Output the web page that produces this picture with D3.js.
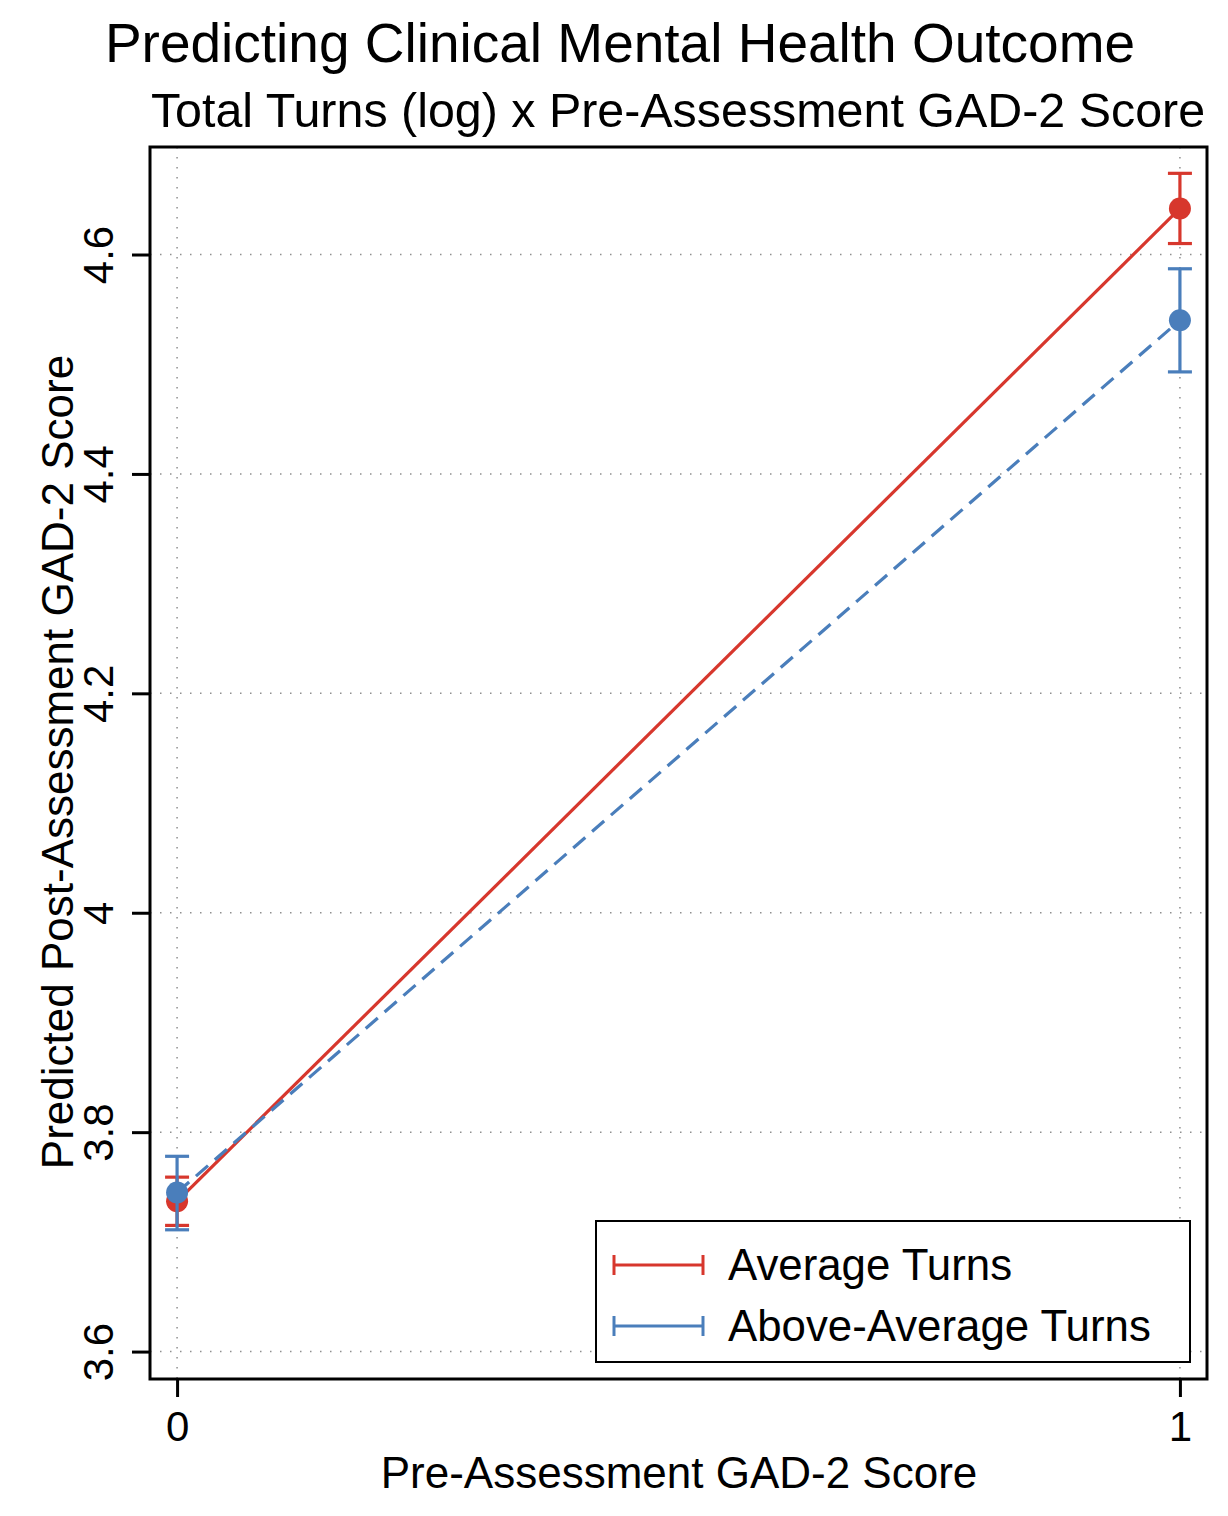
<!DOCTYPE html>
<html>
<head>
<meta charset="utf-8">
<script src="https://cdn.jsdelivr.net/npm/d3@7"></script>
<style>
  body { margin: 0; background: #fff; }
  svg text { font-family: "Liberation Sans", Arial, Helvetica, sans-serif; fill: #000; }
</style>
</head>
<body>
<div id="chart"></div>
<script>
// Pre-assessment GAD-2 score (x categories)
const xValues = [0, 1];
// Average turns: predicted margin and 95% CI
const avgPred = [3.737, 4.642];
const avgLo = [3.715, 4.610];
const avgHi = [3.759, 4.674];
// Above-average turns
const abovePred = [3.745, 4.540];
const aboveLo = [3.711, 4.493];
const aboveHi = [3.778, 4.587];

const yTicks = [3.6, 3.8, 4, 4.2, 4.4, 4.6];
const seriesNames = ['Average Turns', 'Above-Average Turns'];
const colors = ['#d7372d', '#4a7ebb'];

const W = 1228, H = 1516;
const box = { left: 150, top: 147, right: 1207, bottom: 1379 };

const svg = d3.select('#chart').append('svg')
  .attr('width', W).attr('height', H);

const x = d3.scaleLinear().domain([-0.027, 1.027]).range([box.left, box.right]);
const y = d3.scaleLinear().domain([3.575, 4.698]).range([box.bottom, box.top]);

// Titles
svg.append('text')
  .attr('x', 620).attr('y', 62)
  .attr('text-anchor', 'middle')
  .style('font-size', '55px')
  .text('Predicting Clinical Mental Health Outcome');

svg.append('text')
  .attr('x', 678).attr('y', 127)
  .attr('text-anchor', 'middle')
  .style('font-size', '48.4px')
  .text('Total Turns (log) x Pre-Assessment GAD-2 Score');

// grid
const grid = svg.append('g');
grid.selectAll('.hgrid').data(yTicks).enter().append('line')
  .attr('x1', box.left).attr('x2', box.right)
  .attr('y1', d => y(d)).attr('y2', d => y(d))
  .attr('stroke', '#8f8f8f').attr('stroke-width', 1.5)
  .attr('stroke-dasharray', '1.5,8.5');
grid.selectAll('.vgrid').data(xValues).enter().append('line')
  .attr('x1', d => x(d)).attr('x2', d => x(d))
  .attr('y1', box.top).attr('y2', box.bottom)
  .attr('stroke', '#8f8f8f').attr('stroke-width', 1.5)
  .attr('stroke-dasharray', '1.5,8.5');

// axes
const yAxis = svg.append('g')
  .attr('transform', `translate(${box.left},0)`)
  .call(d3.axisLeft(y).tickValues(yTicks).tickSize(18).tickFormat(d3.format('')));
yAxis.select('.domain').remove();
yAxis.selectAll('line').attr('stroke', '#000').attr('stroke-width', 3);
yAxis.selectAll('text')
  .attr('x', null).attr('dy', null)
  .attr('text-anchor', 'middle')
  .attr('transform', 'translate(-37,0) rotate(-90)')
  .style('font-size', '42px')
  .style('font-family', '"Liberation Sans", Arial, sans-serif')
  .attr('fill', '#000');

const xAxis = svg.append('g')
  .attr('transform', `translate(0,${box.bottom})`)
  .call(d3.axisBottom(x).tickValues(xValues).tickSize(18).tickFormat(d3.format('d')));
xAxis.select('.domain').remove();
xAxis.selectAll('line').attr('stroke', '#000').attr('stroke-width', 3);
xAxis.selectAll('text')
  .attr('dy', null).attr('y', 62)
  .style('font-size', '42px')
  .style('font-family', '"Liberation Sans", Arial, sans-serif')
  .attr('fill', '#000');

// plot frame
svg.append('rect')
  .attr('x', box.left).attr('y', box.top)
  .attr('width', box.right - box.left).attr('height', box.bottom - box.top)
  .attr('fill', 'none').attr('stroke', '#000').attr('stroke-width', 3);

// axis titles
svg.append('text')
  .attr('transform', `translate(73,762) rotate(-90)`)
  .attr('text-anchor', 'middle')
  .style('font-size', '44px')
  .text('Predicted Post-Assessment GAD-2 Score');

svg.append('text')
  .attr('x', 679).attr('y', 1488)
  .attr('text-anchor', 'middle')
  .style('font-size', '44px')
  .text('Pre-Assessment GAD-2 Score');

// series
const series = [
  { pred: avgPred, lo: avgLo, hi: avgHi, dash: null },
  { pred: abovePred, lo: aboveLo, hi: aboveHi, dash: '16,9' }
];
const line = d3.line().x((d, i) => x(xValues[i])).y(d => y(d));
const capW = 12;

series.forEach((s, k) => {
  const g = svg.append('g');
  g.append('path')
    .attr('d', line(s.pred))
    .attr('fill', 'none')
    .attr('stroke', colors[k]).attr('stroke-width', 3.2)
    .attr('stroke-dasharray', s.dash);
  xValues.forEach((xv, i) => {
    g.append('line')
      .attr('x1', x(xv)).attr('x2', x(xv))
      .attr('y1', y(s.lo[i])).attr('y2', y(s.hi[i]))
      .attr('stroke', colors[k]).attr('stroke-width', 3.2);
    [s.lo[i], s.hi[i]].forEach(v => {
      g.append('line')
        .attr('x1', x(xv) - capW).attr('x2', x(xv) + capW)
        .attr('y1', y(v)).attr('y2', y(v))
        .attr('stroke', colors[k]).attr('stroke-width', 3.2);
    });
  });
  g.selectAll('circle').data(s.pred).enter().append('circle')
    .attr('cx', (d, i) => x(xValues[i]))
    .attr('cy', d => y(d))
    .attr('r', 11)
    .attr('fill', colors[k]);
});

// legend
const lg = svg.append('g');
lg.append('rect')
  .attr('x', 596).attr('y', 1221)
  .attr('width', 594).attr('height', 141)
  .attr('fill', '#fff').attr('stroke', '#000').attr('stroke-width', 2);
seriesNames.forEach((name, k) => {
  const ly = 1265 + k * 61;
  lg.append('line')
    .attr('x1', 614).attr('x2', 703).attr('y1', ly).attr('y2', ly)
    .attr('stroke', colors[k]).attr('stroke-width', 3);
  [614, 703].forEach(cx => {
    lg.append('line')
      .attr('x1', cx).attr('x2', cx).attr('y1', ly - 10).attr('y2', ly + 10)
      .attr('stroke', colors[k]).attr('stroke-width', 3);
  });
  lg.append('text')
    .attr('x', 728).attr('y', ly + 15)
    .style('font-size', '43.8px')
    .text(name);
});
</script>
</body>
</html>
